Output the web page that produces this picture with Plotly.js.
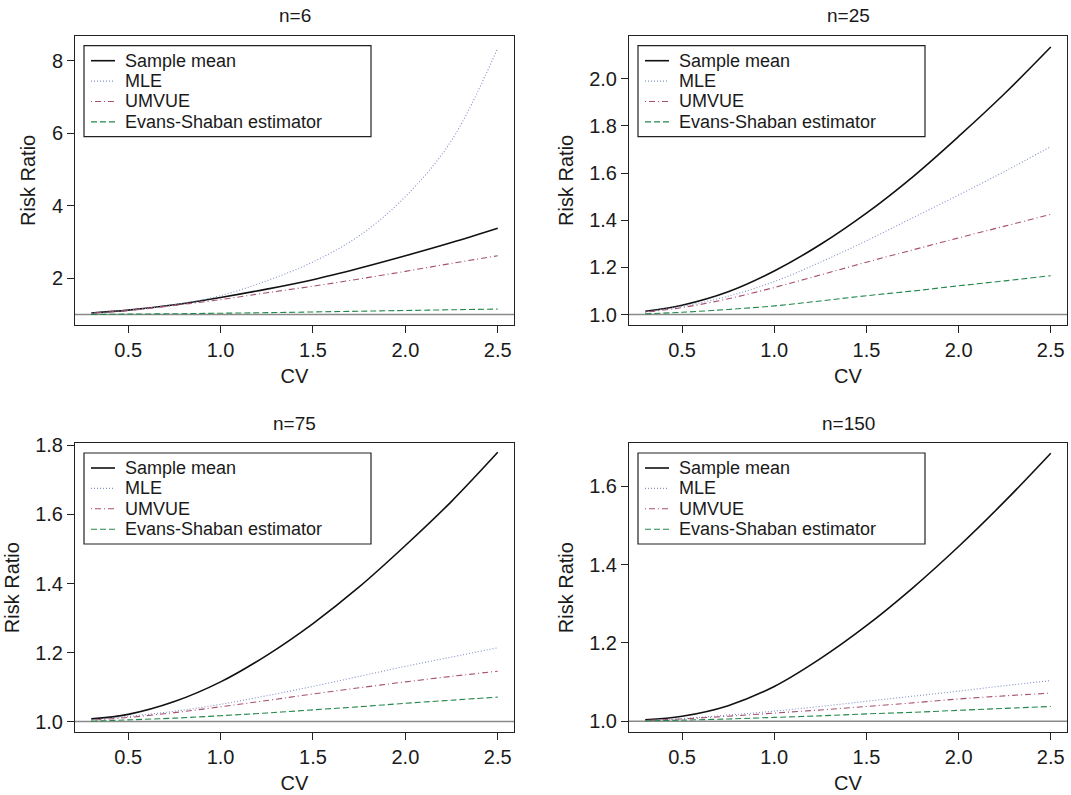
<!DOCTYPE html>
<html>
<head>
<meta charset="utf-8">
<script src="https://cdn.plot.ly/plotly-3.0.1.min.js"></script>
<style>
html,body{margin:0;padding:0;background:#fff;}
#chart{width:1071px;height:795px;}
</style>
</head>
<body>
<div id="chart"></div>
<script>
// ---------------- data ----------------
const cv = [0.3, 0.5, 0.75, 1.0, 1.25, 1.5, 1.75, 2.0, 2.25, 2.5];
const seriesNames = ["Sample mean", "MLE", "UMVUE", "Evans-Shaban estimator"];
const panelTitles = ["n=6", "n=25", "n=75", "n=150"];

const sampleMean_n6  = [1.04, 1.12, 1.27, 1.47, 1.70, 1.96, 2.275, 2.62, 2.985, 3.38];
const mle_n6         = [1.04, 1.12, 1.27, 1.52, 1.93, 2.45, 3.17, 4.25, 5.8, 8.35];
const umvue_n6       = [1.04, 1.11, 1.25, 1.41, 1.60, 1.78, 1.98, 2.19, 2.41, 2.62];
const evansShaban_n6 = [1.00, 1.01, 1.02, 1.035, 1.05, 1.07, 1.09, 1.11, 1.13, 1.15];

const sampleMean_n25  = [1.014, 1.04, 1.097, 1.185, 1.297, 1.43, 1.583, 1.755, 1.937, 2.134];
const mle_n25         = [1.012, 1.035, 1.078, 1.14, 1.222, 1.313, 1.41, 1.507, 1.607, 1.712];
const umvue_n25       = [1.01, 1.03, 1.067, 1.115, 1.168, 1.222, 1.274, 1.325, 1.375, 1.425];
const evansShaban_n25 = [1.003, 1.01, 1.022, 1.037, 1.058, 1.08, 1.10, 1.122, 1.143, 1.165];

const sampleMean_n75  = [1.008, 1.021, 1.058, 1.115, 1.192, 1.284, 1.39, 1.51, 1.638, 1.78];
const mle_n75         = [1.005, 1.015, 1.03, 1.05, 1.075, 1.102, 1.131, 1.16, 1.187, 1.214];
const umvue_n75       = [1.004, 1.012, 1.026, 1.043, 1.061, 1.08, 1.098, 1.115, 1.131, 1.146];
const evansShaban_n75 = [1.001, 1.005, 1.010, 1.017, 1.025, 1.034, 1.043, 1.053, 1.062, 1.071];

const sampleMean_n150  = [1.004, 1.013, 1.040, 1.089, 1.160, 1.244, 1.340, 1.446, 1.561, 1.684];
const mle_n150         = [1.002, 1.007, 1.016, 1.026, 1.038, 1.051, 1.064, 1.077, 1.091, 1.104];
const umvue_n150       = [1.002, 1.006, 1.013, 1.021, 1.029, 1.038, 1.047, 1.057, 1.065, 1.072];
const evansShaban_n150 = [1.001, 1.003, 1.006, 1.010, 1.014, 1.019, 1.023, 1.028, 1.033, 1.038];

const xTickVals = [0.5, 1.0, 1.5, 2.0, 2.5];
const yTickVals_n6   = [2, 4, 6, 8];
const yTickVals_n25  = [1.0, 1.2, 1.4, 1.6, 1.8, 2.0];
const yTickVals_n75  = [1.0, 1.2, 1.4, 1.6, 1.8];
const yTickVals_n150 = [1.0, 1.2, 1.4, 1.6];
const referenceLevel = 1;

// ---------------- layout helpers ----------------
const W = 1071, H = 795;
const FONT = "Liberation Sans, Arial, Helvetica, sans-serif";
const TXT = "#1a1a1a";
const AX = "#222222";

const panelData = [
  [sampleMean_n6, mle_n6, umvue_n6, evansShaban_n6],
  [sampleMean_n25, mle_n25, umvue_n25, evansShaban_n25],
  [sampleMean_n75, mle_n75, umvue_n75, evansShaban_n75],
  [sampleMean_n150, mle_n150, umvue_n150, evansShaban_n150]
];
const panelYTicks = [yTickVals_n6, yTickVals_n25, yTickVals_n75, yTickVals_n150];
const panelYFormat = [".0f", ".1f", ".1f", ".1f"];
// plot boxes in pixels: left, right, top, bottom
const boxes = [
  {l: 75,  r: 514,  t: 35.7, b: 325},
  {l: 629, r: 1067, t: 35.7, b: 325},
  {l: 75,  r: 514,  t: 443,  b: 732.3},
  {l: 629, r: 1067, t: 443,  b: 732.3}
];
const xRange = [0.212, 2.588];
const yRanges = [[0.71, 8.69], [0.956, 2.182], [0.969, 1.807], [0.972, 1.71]];

const styles = [
  {color: "#111111", width: 1.6, dash: "solid"},
  {color: "#8391c6", width: 1.1, dash: "1px,2px"},
  {color: "#a5506f", width: 1.1, dash: "1px,3px,6px,3px"},
  {color: "#23884b", width: 1.1, dash: "6px,3px"}
];

const px = v => v / W;
const py = v => 1 - v / H;

const traces = [];
const shapes = [];
const annotations = [];
const layout = {
  width: W, height: H,
  margin: {l: 0, r: 0, t: 0, b: 0},
  paper_bgcolor: "#fff", plot_bgcolor: "#fff",
  showlegend: false,
  font: {family: FONT, size: 20, color: TXT},
  hovermode: false
};

const LEG_FONT = 18, LEG_ROW = 20.4;

boxes.forEach((bx, p) => {
  const sfx = p === 0 ? "" : String(p + 1);
  const xa = "x" + sfx, ya = "y" + sfx;
  panelData[p].forEach((vals, s) => {
    traces.push({
      x: cv, y: vals, xaxis: xa, yaxis: ya,
      type: "scatter", mode: "lines", name: seriesNames[s],
      line: {color: styles[s].color, width: styles[s].width, dash: styles[s].dash, shape: "spline", smoothing: 1}
    });
  });

  const axCommon = {
    showgrid: false, zeroline: false,
    showline: true, linecolor: AX, linewidth: 1, mirror: true,
    ticks: "outside", ticklen: 7, tickwidth: 1, tickcolor: AX,
    tickfont: {family: FONT, size: 20, color: TXT}
  };
  layout["xaxis" + sfx] = Object.assign({}, axCommon, {
    domain: [px(bx.l), px(bx.r)], anchor: ya, range: xRange,
    tickvals: xTickVals, tickformat: ".1f",
    title: {text: "CV", font: {family: FONT, size: 20, color: TXT}, standoff: 8}
  });
  layout["yaxis" + sfx] = Object.assign({}, axCommon, {
    domain: [py(bx.b), py(bx.t)], anchor: xa, range: yRanges[p],
    tickvals: panelYTicks[p], tickformat: panelYFormat[p],
    title: {text: "Risk Ratio", font: {family: FONT, size: 20, color: TXT}, standoff: 10}
  });

  // reference line at 1
  shapes.push({
    type: "line", xref: xa + " domain", x0: 0, x1: 1, yref: ya, y0: referenceLevel, y1: referenceLevel,
    line: {color: "#8a8a8a", width: 1.5}, layer: "below"
  });

  // panel title
  annotations.push({
    xref: "paper", yref: "paper", x: px((bx.l + bx.r) / 2), y: py(bx.t - 20),
    xanchor: "center", yanchor: "middle", showarrow: false,
    text: panelTitles[p], font: {family: FONT, size: 19, color: TXT}
  });

  // legend (drawn box, samples and labels)
  const lgL = bx.l + 9, lgT = bx.t + 10, lgW = 287, lgH = 91;
  shapes.push({
    type: "rect", xref: "paper", yref: "paper",
    x0: px(lgL), x1: px(lgL + lgW), y0: py(lgT + lgH), y1: py(lgT),
    line: {color: AX, width: 1.2}, fillcolor: "rgba(255,255,255,0)", layer: "above"
  });
  seriesNames.forEach((nm, s) => {
    const rowY = lgT + 15 + s * LEG_ROW;
    shapes.push({
      type: "line", xref: "paper", yref: "paper",
      x0: px(lgL + 7), x1: px(lgL + 31), y0: py(rowY), y1: py(rowY),
      line: {color: styles[s].color, width: styles[s].width, dash: styles[s].dash}
    });
    annotations.push({
      xref: "paper", yref: "paper", x: px(lgL + 40), y: py(rowY),
      xanchor: "left", yanchor: "middle", showarrow: false, borderpad: 0,
      text: nm, font: {family: FONT, size: LEG_FONT, color: TXT}
    });
  });
});

layout.shapes = shapes;
layout.annotations = annotations;

Plotly.newPlot("chart", traces, layout, {staticPlot: true, displayModeBar: false});
</script>
</body>
</html>
